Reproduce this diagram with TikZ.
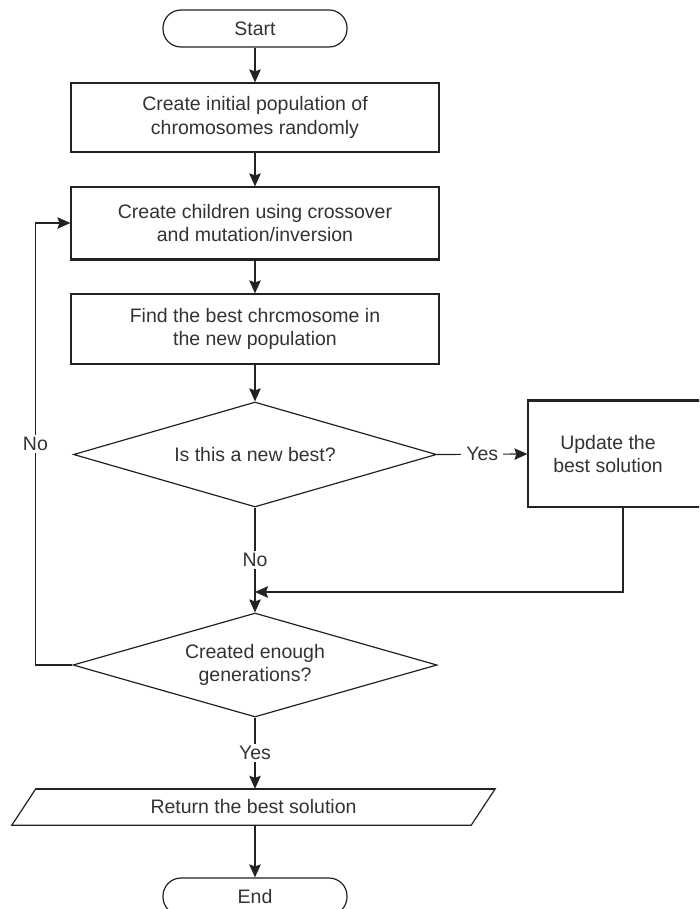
\documentclass[tikz,border=0pt]{standalone}
\usepackage{fontspec}
\setmainfont{Liberation Sans}
\usetikzlibrary{shapes.geometric,arrows.meta}
\definecolor{txt}{HTML}{333333}
\definecolor{ln}{HTML}{222222}
\begin{document}
\begin{tikzpicture}[x=1pt,y=-1pt,
  every node/.style={text=txt, font=\fontsize{19.5}{23.5}\selectfont},
  box/.style={draw=ln, line width=1.2pt, rectangle, align=center, minimum width=368pt},
  term/.style={draw=ln, line width=1.2pt, rounded corners=18pt, minimum width=184pt, minimum height=37pt},
  decide/.style={draw=ln, line width=1.2pt, diamond, aspect=3.4, inner sep=2pt, align=center},
  arr/.style={-{Stealth[length=13pt,width=11.5pt,inset=2pt]}, draw=ln, line width=1.2pt},
  lab/.style={fill=white, inner xsep=5pt, inner ysep=2pt}]
\useasboundingbox (0,0) rectangle (699,909);
\fill[white] (0,0) rectangle (699,909);
\clip (0,0) rectangle (699,909);

\node[term] (start) at (255,28.5) {Start};
\node[box, minimum height=69pt] (b1) at (255,117.5) {Create initial population of\\chromosomes randomly};
\node[box, minimum height=72pt] (b2) at (255,223) {Create children using crossover\\and mutation/inversion};
\node[box, minimum height=70pt] (b3) at (255,329) {Find the best chrcmosome in\\the new population};
\node[decide, minimum width=363pt, minimum height=105pt] (d1) at (255,454.5) {Is this a new best?};
\node[box, minimum width=190pt, minimum height=106pt,
  label={[align=center, xshift=-15pt]center:Update the\\best solution}] (upd) at (623,454) {};
\node[decide, minimum width=364pt, minimum height=104pt] (d2) at (255,665) {Created enough\\generations?};
\node[minimum width=483pt, minimum height=36pt, inner sep=0pt] (ret) at (253.5,807) {Return the best solution};
\draw[ln, line width=1.2pt] ([xshift=24pt]ret.north west) -- (ret.north east) -- ([xshift=-24pt]ret.south east) -- (ret.south west) -- cycle;
\node[term] (end) at (255,896.5) {End};
\coordinate (m) at (255,592);

% scan-heavy edges
\draw[ln, line width=2.4pt] (b2.south west) -- (b2.south east);
\draw[ln, line width=2.4pt] (upd.north west) -- (upd.north east);
\draw[ln, line width=2.4pt] ([xshift=24pt]ret.north west) -- (ret.north east);

\draw[arr] (start) -- (b1);
\draw[arr] (b1) -- (b2);
\draw[arr] (b2) -- (b3);
\draw[arr] (b3) -- (d1);
\draw[arr] (d1.east) -- node[lab]{Yes} (upd.west);
\draw[arr] (d1.south) -- node[lab]{No} (d2.north);
\draw[arr] (upd.south) |- (m);
\draw[arr] (d2.west) -- ++(-37,0) |- node[lab, pos=0.25]{No} (b2.west);
\draw[arr] (d2.south) -- node[lab]{Yes} (d2.south |- ret.north);
\draw[arr] (ret.south -| end.north) -- (end.north);
\end{tikzpicture}
\end{document}
